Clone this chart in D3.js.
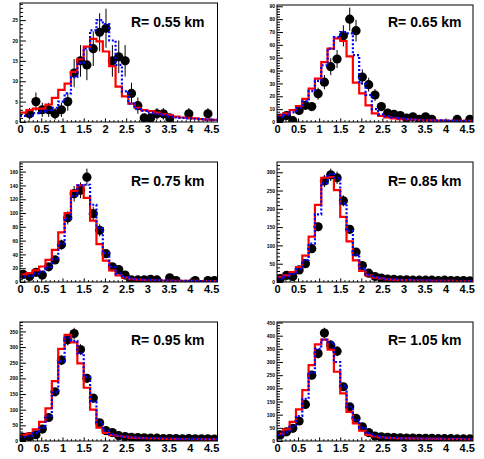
<!DOCTYPE html>
<html><head><meta charset="utf-8">
<script src="https://cdnjs.cloudflare.com/ajax/libs/d3/7.8.5/d3.min.js"></script>
<style>body{margin:0;background:#fff}svg{display:block}</style>
</head><body>
<svg id="c" width="484" height="459"></svg>
<script>
// ---- data ----
const panelLabels = ["R= 0.55 km","R= 0.65 km","R= 0.75 km","R= 0.85 km","R= 0.95 km","R= 1.05 km"];
const xTickLabels = [0,0.5,1,1.5,2,2.5,3,3.5,4,4.5];
const xRange = [0, 4.65];
const binWidth = 0.15;
const yMaxes = [29.2, 91, 174, 328, 380, 452];
const yTickSteps = [5, 10, 20, 50, 50, 50];

const dataR055 = [0,2,5,3,3,2,3,5,12,15,14,18,22,23,15,16,15,7,4,1,1,2,2,1,0,0,2,0,0,2,0];
const redR055  = [2.3,2.9,3.3,3.3,4.3,5.9,7.9,9.4,12.3,15.4,18.5,20.4,19.8,17.3,13.7,8.7,6.3,4.5,3.5,2.9,2.7,2.3,1.9,1.7,1.3,1.1,1.0,0.9,0.7,0.6,0.5];
const blueR055 = [1.5,1.6,2.2,2.6,2.9,3.5,5,7,11,14.5,18,22.5,25,24,20,14,7.5,4.5,3.2,2.7,2.3,2,1.7,1.3,1.1,1.0,0.9,0.8,0.7,0.6,0.5];

const dataR065 = [3,5,1,9,13,12,22,31,43,49,67,80,71,35,29,21,12,7,6,5,3,4,2,4,2,0,0,0,2,0,2];
const redR065  = [5.2,6.7,9.3,12.4,18,26,33.7,46.6,57,65,63,51,30.6,22.3,13,6.7,4.7,3.6,2.8,2.3,2,1.8,1.5,1.3,1.2,1.1,1.0,0.9,0.9,0.8,0.8];
const blueR065 = [4,5.5,7.5,11,16,24,32,44,57,66,70,69,52,30,21,10,6,4.5,3.5,2.8,2.3,2,1.7,1.5,1.3,1.2,1.1,1,0.9,0.8,0.8];

const dataR075 = [11,8,14,10,22,32,54,93,128,133,152,99,75,41,22,18,10,3,3,3,4,3,0,6,2,0,0,2,0,2,2];
const redR075  = [11,13,17,22.5,32,46.5,72,100,132,140,122,89,55,31,17,9.6,6.2,4.3,3.4,2.9,2.4,2.2,2,1.9,1.8,1.7,1.6,1.5,1.4,1.3,1.2];
const blueR075 = [8,9,12,15,22,33,56,92,125,140,141,112,78,42,22,12,7,5,4,3.5,3,2.7,2.4,2.2,2,1.8,1.6,1.5,1.4,1.3,1.2];

const dataR085 = [9,18,15,33,50,91,151,276,293,285,222,144,82,45,24,15,11,8,7,6,6,5,5,5,5,4,5,4,4,4,3];
const redR085  = [13,18,27,41,72,124,211,285,287,251,178,111,59,30,18,12,9,7,6,5,5,4,4,4,3,3,3,3,2,2,2];
const blueR085 = [10,15,22,35,60,105,185,270,295,285,215,140,75,38,20,13,10,8,7,6,6,5,5,5,4,4,4,4,3,3,3];

const dataR095 = [12,14,20,38,75,157,258,323,343,292,200,137,58,33,27,17,14,12,11,10,9,9,8,8,8,7,8,7,7,7,6];
const redR095  = [19,24,37,61,104,191,294,339,315,248,170,100,43,26,19,16,13,11,10,9,8,8,7,7,6,6,6,5,5,5,5];
const blueR095 = [12,16,25,42,80,155,255,330,320,280,205,125,60,33,22,17,14,12,11,10,9,9,8,8,8,7,7,7,6,6,6];

const dataR105 = [23,35,48,76,139,250,332,410,364,341,206,130,86,54,32,19,16,14,13,12,11,11,10,10,10,9,9,9,8,8,8];
const redR105  = [27,44,73,120,193,288,367,385,347,263,181,111,67,39,23,17,14,12,11,10,10,9,9,8,8,8,7,7,7,6,6];
const blueR105 = [22,33,55,95,160,260,350,385,375,300,210,130,80,50,30,20,15,13,12,11,10,10,10,9,9,9,8,8,8,8,7];

const panelData = [dataR055,dataR065,dataR075,dataR085,dataR095,dataR105];
const panelRed  = [redR055,redR065,redR075,redR085,redR095,redR105];
const panelBlue = [blueR055,blueR065,blueR075,blueR085,blueR095,blueR105];

// ---- layout ----
const frames = [
  {x0:20, x1:217.5, y0:3,   y1:122, tx:131, ty:26.5},
  {x0:277,x1:473,   y0:5,   y1:122, tx:388, ty:26.5},
  {x0:20, x1:217.5, y0:162, y1:282, tx:131, ty:186},
  {x0:277,x1:473,   y0:162, y1:282, tx:388, ty:186},
  {x0:20, x1:217.5, y0:322, y1:441, tx:131, ty:345},
  {x0:277,x1:473,   y0:322, y1:441, tx:388, ty:345}
];
const FONT = "'Liberation Sans', Arial, Helvetica, sans-serif";
const svg = d3.select("#c");
svg.append("rect").attr("width",484).attr("height",459).attr("fill","#fff");

frames.forEach((f, p) => {
  const x = d3.scaleLinear().domain(xRange).range([f.x0, f.x1]);
  const y = d3.scaleLinear().domain([0, yMaxes[p]]).range([f.y1, f.y0]);
  const g = svg.append("g");
  const clipId = "clip" + p;
  g.append("clipPath").attr("id", clipId).append("rect")
    .attr("x", f.x0).attr("y", f.y0).attr("width", f.x1 - f.x0).attr("height", f.y1 - f.y0);
  const plot = g.append("g").attr("clip-path", `url(#${clipId})`);

  const data = panelData[p];
  const pts = data.map((v, i) => ({c: (i + 0.5) * binWidth, v})).filter(d => d.v > 0);
  // error bars
  plot.selectAll("line.err").data(pts).join("line")
    .attr("x1", d => x(d.c)).attr("x2", d => x(d.c))
    .attr("y1", d => y(d.v - Math.sqrt(d.v))).attr("y2", d => y(d.v + Math.sqrt(d.v)))
    .attr("stroke", "#000").attr("stroke-width", 1);
  plot.selectAll("circle").data(pts).join("circle")
    .attr("cx", d => x(d.c)).attr("cy", d => y(d.v)).attr("r", 4.6).attr("fill", "#000");

  const stepLine = d3.line().x(d => x(d[0])).y(d => y(d[1])).curve(d3.curveStepAfter);
  function stepPts(arr) {
    const a = arr.map((v, i) => [i * binWidth, v]);
    a.push([arr.length * binWidth, arr[arr.length - 1]]);
    return a;
  }
  plot.append("path").attr("d", stepLine(stepPts(panelRed[p])))
    .attr("fill", "none").attr("stroke", "#ff0000").attr("stroke-width", 2.2);
  plot.append("path").attr("d", stepLine(stepPts(panelBlue[p])))
    .attr("fill", "none").attr("stroke", "#0000ff").attr("stroke-width", 2.2)
    .attr("stroke-dasharray", "2,2");

  // frame
  g.append("rect").attr("x", f.x0).attr("y", f.y0).attr("width", f.x1 - f.x0).attr("height", f.y1 - f.y0)
    .attr("fill", "none").attr("stroke", "#000").attr("stroke-width", 1);

  // x axis (major + minor)
  const xMinor = d3.range(0, 46).map(k => k / 10).filter(v => Math.abs(v * 2 - Math.round(v * 2)) > 1e-6);
  const xa = g.append("g").attr("transform", `translate(0,${f.y1})`)
    .call(d3.axisBottom(x).tickValues(xTickLabels).tickSize(-3.6).tickSizeOuter(0).tickPadding(3).tickFormat(d => String(d)));
  xa.select(".domain").remove();
  xa.selectAll("text").attr("font-family", FONT).attr("font-weight", "bold").attr("font-size", 11).attr("fill", "#000");
  const xm = g.append("g").attr("transform", `translate(0,${f.y1})`)
    .call(d3.axisBottom(x).tickValues(xMinor).tickSize(-1.8).tickSizeOuter(0).tickFormat(""));
  xm.select(".domain").remove();

  // y axis
  const step = yTickSteps[p];
  const yMajor = d3.range(0, yMaxes[p] + 1e-9, step);
  const yMinor = d3.range(0, yMaxes[p] + 1e-9, step / 5).filter(v => Math.abs(v / step - Math.round(v / step)) > 1e-6);
  const ya = g.append("g").attr("transform", `translate(${f.x0},0)`)
    .call(d3.axisLeft(y).tickValues(yMajor).tickSize(-5.9).tickSizeOuter(0).tickPadding(2).tickFormat(d => String(d)));
  ya.select(".domain").remove();
  ya.selectAll("text").attr("font-family", FONT).attr("font-weight", "bold").attr("font-size", 5).attr("fill", "#000");
  const ym = g.append("g").attr("transform", `translate(${f.x0},0)`)
    .call(d3.axisLeft(y).tickValues(yMinor).tickSize(-3).tickSizeOuter(0).tickFormat(""));
  ym.select(".domain").remove();

  // label
  g.append("text").attr("x", f.tx).attr("y", f.ty).text(panelLabels[p])
    .attr("font-family", FONT).attr("font-weight", "bold").attr("font-size", 14).attr("fill", "#000");
});
</script>
</body></html>
